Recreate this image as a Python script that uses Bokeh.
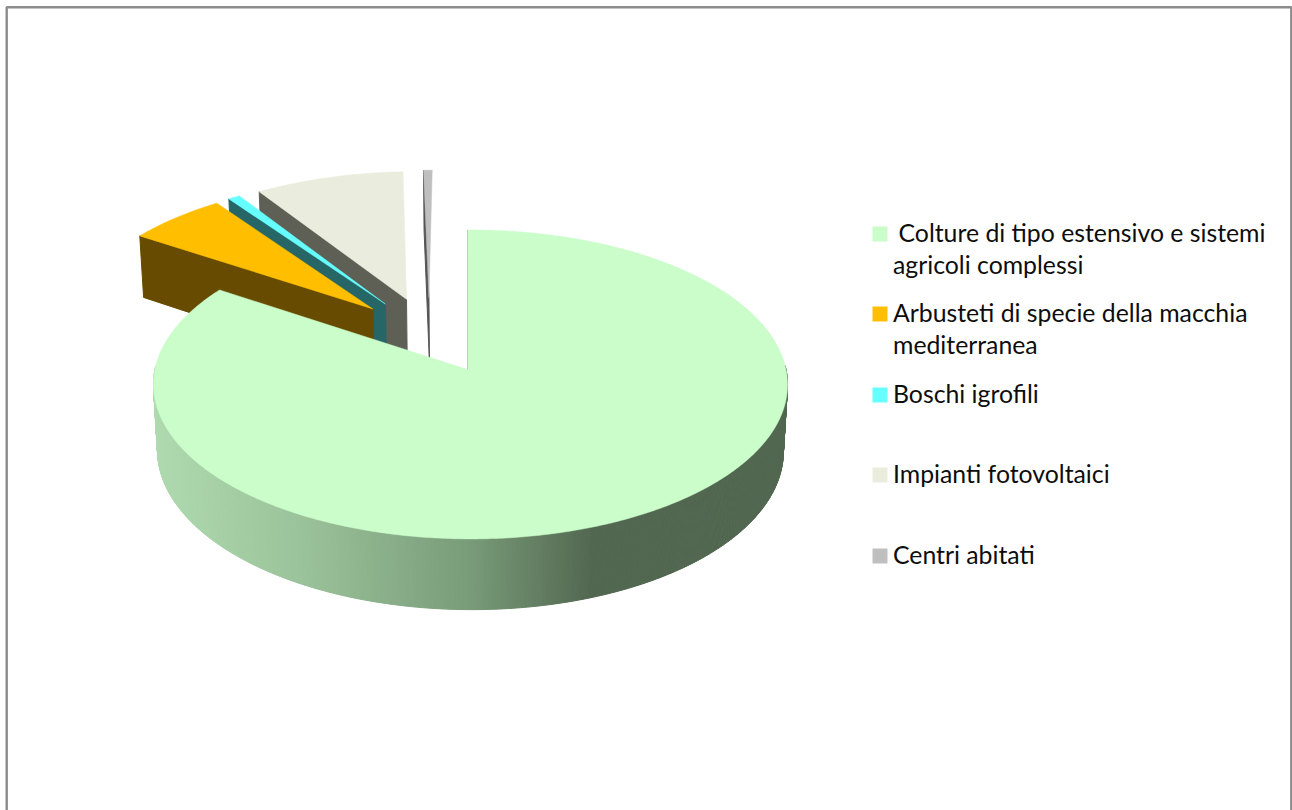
import numpy as np
from bokeh.plotting import figure
from bokeh.embed import file_html
from bokeh.resources import INLINE
from bokeh.core.properties import value
from bokeh.models import Range1d

categories = [" Colture di tipo estensivo e sistemi\nagricoli complessi",
              "Arbusteti di specie della macchia\nmediterranea",
              "Boschi igrofili", "Impianti fotovoltaici", "Centri abitati"]
shares = [84.3, 5.8, 0.7, 8.7, 0.5]
top_colors = ["#CAFDCA", "#FFBF00", "#66FFFF", "#EAEDDD", "#BFBFBF"]
side_colors = ["#52684F", "#664B00", "#266666", "#5E5F55", "#555555"]

W, H = 1292, 810
# projection of the pie's plane onto the page (figure coordinates = page pixels)
OX, OY = 467.0, 369.0
RX, RY, DEPTH = 315.5, 153.0, 67.0
K, M, N = 0.0968, -0.0094, 0.013
EXPLODE = 0.262


def project(X, Y, d=0.0):
    X, Y = np.asarray(X, float), np.asarray(Y, float)
    w = 1 + K * Y + M * X + N * d
    return OX + RX * X / w, OY - (RY * Y - DEPTH * d) / w


p = figure(width=W, height=H, output_backend="svg", toolbar_location=None,
           x_range=Range1d(0, W), y_range=Range1d(H, 0), min_border=0,
           outline_line_color=None, background_fill_color="white", border_fill_color="white")
p.axis.visible = False
p.grid.visible = False

# frame
p.line([6.2, 6.2, 1290.8, 1290.8], [H, 6.8, 6.8, H], line_color="#8C8C8C", line_width=2.4)

ends = np.cumsum(shares) / np.sum(shares) * 2 * np.pi
starts = np.concatenate([[0], ends[:-1]])
mids = (starts + ends) / 2
off_x = EXPLODE * (np.sin(mids) - np.sin(mids[0]))
off_y = EXPLODE * (np.cos(mids) - np.cos(mids[0]))

stop_x = [156, 300, 470, 590, 790]
stop_rgb = np.array([[175, 218, 175], [155, 195, 155], [120, 155, 120], [82, 103, 80], [82, 103, 80]])


def wall_color(x):
    return "#%02X%02X%02X" % tuple(int(round(np.interp(x, stop_x, stop_rgb[:, i]))) for i in range(3))


for i in [4, 3, 2, 1, 0]:
    ax, ay = off_x[i], off_y[i]
    th = np.linspace(starts[i], ends[i], max(8, int((ends[i] - starts[i]) * 120)))
    ex, ey = ax + np.sin(th), ay + np.cos(th)
    # outer wall (only the big slice shows it, and only its near half)
    if i == 0:
        xs, ys, cols = [], [], []
        for j in range(len(th) - 1):
            if np.cos(th[j]) > 0.02 and np.cos(th[j + 1]) > 0.02:
                continue
            tx0, ty0 = project(ex[j:j + 2], ey[j:j + 2])
            bx0, by0 = project(ex[j:j + 2], ey[j:j + 2], 1.0)
            xs.append([tx0[0], tx0[1], bx0[1], bx0[0]])
            ys.append([ty0[0], ty0[1], by0[1], by0[0]])
            cols.append(wall_color(bx0.mean()))
        p.patches(xs, ys, fill_color=cols, line_color=cols, line_width=1)
    # radial face at the slice's first edge
    rx = np.array([ax, ex[0]])
    ry = np.array([ay, ey[0]])
    tx, ty = project(rx, ry)
    bx, by = project(rx, ry, 1.0)
    p.patch([tx[0], tx[1], bx[1], bx[0]], [ty[0], ty[1], by[1], by[0]],
            fill_color=side_colors[i], line_color=side_colors[i], line_width=1)
    # top face
    sx, sy = project(np.concatenate([[ax], ex]), np.concatenate([[ay], ey]))
    p.patch(sx, sy, fill_color=top_colors[i], line_color=top_colors[i], line_width=0.5)

# legend
marker_y = [233.5, 313.5, 394.5, 474.5, 555.5]
line_step = 32
text_lift = 2
for name, col, y in zip(categories, top_colors, marker_y):
    p.rect([879.5], [y], width=15, height=15, fill_color=col, line_color=None)
    for n, line in enumerate(name.split("\n")):
        x = 898 if line.startswith(" ") else 892.5
        p.text([x], [y - text_lift + n * line_step], text=[line.strip()], text_font=value("Lato"),
               text_font_size="24.8px", text_color="#0D0D0D",
               text_align="left", text_baseline="middle")

open("out.html", "w").write(file_html(p, INLINE))
